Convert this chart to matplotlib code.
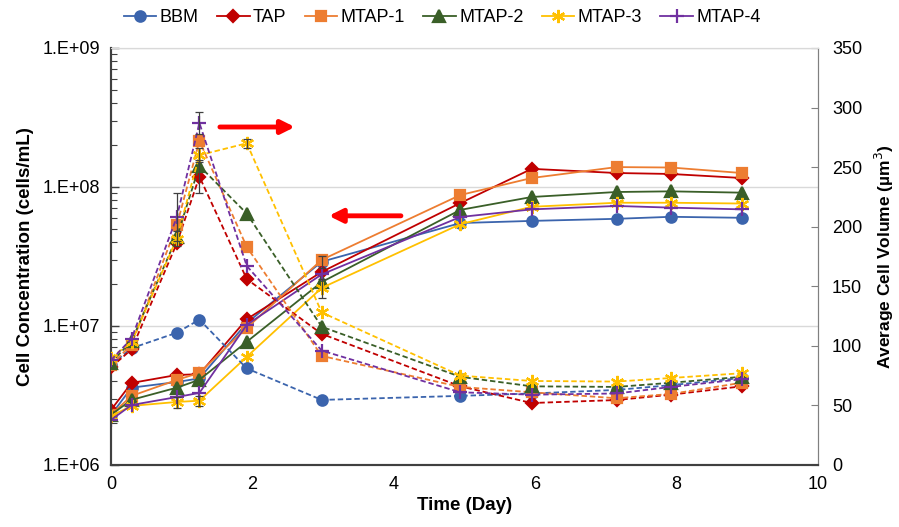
import numpy as np
import matplotlib
matplotlib.use("Agg")
import matplotlib.pyplot as plt
from matplotlib.ticker import FuncFormatter, LogLocator, NullFormatter

plt.rcParams['font.family'] = ['Liberation Sans', 'DejaVu Sans']

# sampling days (shared by all series)
days = [0, 0.29, 0.93, 1.25, 1.92, 2.98, 4.94, 5.95, 7.15, 7.92, 8.92]

names = ["BBM", "TAP", "MTAP-1", "MTAP-2", "MTAP-3", "MTAP-4"]

# cell concentration (cells/mL), solid lines, left axis
conc_bbm = [2.29e6, 3.6e6, 3.95e6, 4.2e6, 1.05e7, 2.9e7, 5.5e7, 5.7e7, 5.9e7, 6.1e7, 6.0e7]
conc_tap = [2.49e6, 3.89e6, 4.44e6, 4.5e6, 1.12e7, 2.45e7, 7.66e7, 1.35e8, 1.26e8, 1.24e8, 1.16e8]
conc_m1 = [2.3e6, 3.14e6, 4.09e6, 4.6e6, 9.7e6, 2.99e7, 8.75e7, 1.16e8, 1.39e8, 1.38e8, 1.26e8]
conc_m2 = [2.3e6, 2.94e6, 3.6e6, 4.1e6, 7.7e6, 2.07e7, 6.84e7, 8.47e7, 9.2e7, 9.3e7, 9.1e7]
conc_m3 = [2.25e6, 2.66e6, 2.84e6, 2.9e6, 6.0e6, 1.88e7, 5.4e7, 7.2e7, 7.7e7, 7.7e7, 7.6e7]
conc_m4 = [2.11e6, 2.70e6, 3.08e6, 3.3e6, 1.02e7, 2.35e7, 6.08e7, 6.9e7, 7.3e7, 7.1e7, 6.9e7]

# average cell volume (um^3), dashed lines, right axis
vol_bbm = [84, 98, 111, 122, 81, 54.6, 58, 60, 63, 67, 73]
vol_tap = [82, 97, 186, 242, 156, 110, 66, 52, 54.5, 59, 66]
vol_m1 = [84, 101, 201, 272, 183, 91.5, 65.5, 61, 56, 59.6, 69]
vol_m2 = [86, 104, 191, 251, 211, 116, 74, 66, 65.5, 69, 74]
vol_m3 = [90, 103, 190, 260, 270, 128, 75, 70.5, 70, 73, 77]
vol_m4 = [88, 106, 208, 287, 167, 96, 61, 59, 60, 65.5, 72]

# error bars that are visible in the picture (0 = none drawn)
vol_err_tap = [0, 0, 0, 14, 0, 0, 0, 0, 0, 0, 0]
vol_err_m3 = [0, 0, 6, 6, 4, 0, 0, 0, 0, 0, 0]
vol_err_m4 = [0, 0, 20, 9, 0, 0, 0, 0, 0, 0, 0]
conc_err_m3 = [0, 0, 0.25e6, 0.25e6, 0, 3e6, 0, 0, 0, 0, 0]
conc_err_bbm = [0, 0, 0, 0, 0, 3e6, 0, 0, 0, 0, 0]

concs = [conc_bbm, conc_tap, conc_m1, conc_m2, conc_m3, conc_m4]
vols = [vol_bbm, vol_tap, vol_m1, vol_m2, vol_m3, vol_m4]
colors = ["#3B64AD", "#C00000", "#ED7D31", "#3A5F28", "#FFC000", "#7030A0"]
markers = ["o", "D", "s", "^", (6, 2, 0), "+"]
msizes = [7.5, 6.5, 7.5, 8, 9.5, 10.5]

fig = plt.figure(figsize=(8.99, 5.27), dpi=100)
ax = fig.add_axes([0.1235, 0.1177, 0.7865, 0.7913])
ax2 = ax.twinx()

for c, v, col, m, ms, nm in zip(concs, vols, colors, markers, msizes, names):
    ax.plot(days, c, color=col, lw=1.3, marker=m, ms=ms, mew=1.6,
            label=nm, zorder=3)
    ax2.plot(days, v, color=col, lw=1.3, ls=(0, (3, 1.6)), marker=m, ms=ms,
             mew=1.6, zorder=3)


def draw_err(axis, y, err):
    d = np.array(days)
    y = np.array(y, dtype=float)
    e = np.array(err, dtype=float)
    k = e > 0
    axis.errorbar(d[k], y[k], yerr=e[k], fmt="none", ecolor="#404040",
                  elinewidth=0.9, capsize=3, capthick=0.9, zorder=4)


draw_err(ax2, vol_tap, vol_err_tap)
draw_err(ax2, vol_m3, vol_err_m3)
draw_err(ax2, vol_m4, vol_err_m4)
draw_err(ax, conc_m3, conc_err_m3)
draw_err(ax, conc_bbm, conc_err_bbm)

# left axis (log)
ax.set_yscale("log")
ax.set_ylim(1e6, 1e9)
ax.set_xlim(0, 10)
ax.set_xticks([0, 2, 4, 6, 8, 10])
ax.yaxis.set_major_locator(LogLocator(base=10, numticks=10))
ax.yaxis.set_minor_locator(LogLocator(base=10, subs=np.arange(2, 10), numticks=10))
ax.yaxis.set_minor_formatter(NullFormatter())
ax.yaxis.set_major_formatter(FuncFormatter(lambda v, p: "1.E+%02d" % int(round(np.log10(v)))))
ax.yaxis.grid(True, which="major", color="#D9D9D9", lw=1.0)
ax.set_axisbelow(True)
ax.tick_params(axis="y", which="major", direction="in", length=6, width=1,
               color="#404040", labelsize=13, pad=8)
ax.tick_params(axis="y", which="minor", direction="in", length=4, width=0.8,
               color="#404040")
ax.tick_params(axis="x", length=0, labelsize=13, pad=8)

# right axis (linear)
ax2.set_ylim(0, 350)
ax2.set_yticks(range(0, 351, 50))
ax2.tick_params(axis="y", direction="in", length=5, width=0.8, color="#808080",
                labelsize=13, pad=10)

for a in (ax, ax2):
    a.spines["top"].set_color("#D9D9D9")
    a.spines["left"].set_color("#404040")
    a.spines["left"].set_linewidth(1.5)
    a.spines["bottom"].set_color("#404040")
    a.spines["bottom"].set_linewidth(1.5)
    a.spines["right"].set_color("#808080")

ax.set_xlabel("Time (Day)", fontsize=13.5, fontweight="bold", labelpad=3)
ax.set_ylabel("Cell Concentration (cells/mL)", fontsize=13.5, fontweight="bold", labelpad=6)
ax2.set_ylabel("Average Cell Volume (µm$^3$)", fontsize=12.5, fontweight="bold", labelpad=8)

# red arrows pointing to the axis each group belongs to
ax.annotate("", xy=(2.6, 2.7e8), xytext=(1.54, 2.7e8),
            arrowprops=dict(arrowstyle="-|>,head_length=0.8,head_width=0.4",
                            color="red", lw=3.5, shrinkA=0, shrinkB=0))
ax.annotate("", xy=(3.08, 6.2e7), xytext=(4.1, 6.2e7),
            arrowprops=dict(arrowstyle="-|>,head_length=0.8,head_width=0.4",
                            color="red", lw=3.5, shrinkA=0, shrinkB=0))

handles, labels = ax.get_legend_handles_labels()
fig.legend(handles, labels, loc="center", bbox_to_anchor=(0.492, 0.966), ncol=6,
           frameon=False, fontsize=13, handlelength=1.8, handletextpad=0.2,
           columnspacing=1.0)

fig.savefig("out.png", dpi=100)
